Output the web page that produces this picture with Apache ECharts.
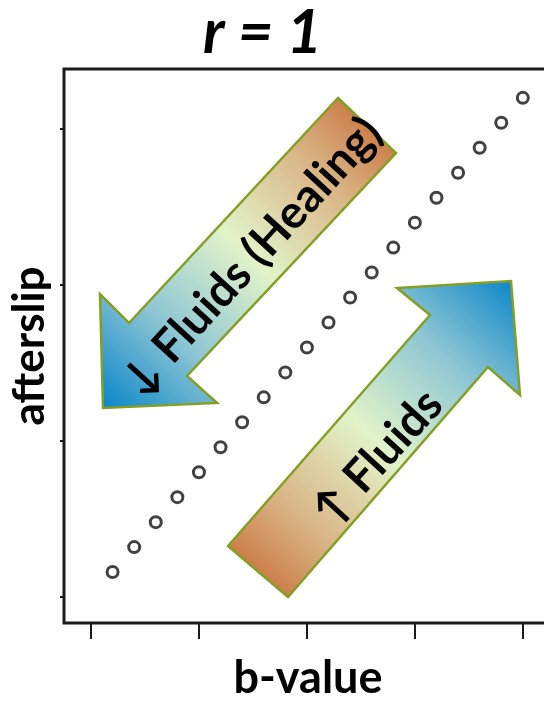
<!DOCTYPE html>
<html>
<head>
<meta charset="utf-8">
<script src="https://cdn.jsdelivr.net/npm/echarts@6/dist/echarts.min.js"></script>
<style>
  html, body { margin: 0; padding: 0; background: #fff; }
  #chart { width: 544px; height: 705px; }
</style>
</head>
<body>
<div id="chart"></div>
<script>
// values
const bValue = [0.2, 0.4, 0.6, 0.8, 1.0, 1.2, 1.4, 1.6, 1.8, 2.0, 2.2, 2.4, 2.6, 2.8, 3.0, 3.2, 3.4, 3.6, 3.8, 4.0]
const afterslip = [0.16, 0.32, 0.48, 0.64, 0.8, 0.96, 1.12, 1.28, 1.44, 1.6, 1.76, 1.92, 2.08, 2.24, 2.4, 2.56, 2.72, 2.88, 3.04, 3.2]
const xTicks = [0, 1, 2, 3, 4]
const yTicks = [0, 1, 2, 3]

const titleText = 'r = 1'
const xName = 'b-value'
const yName = 'afterslip'
const downLabel = '\u2193 Fluids (Healing)'
const upLabel = '\u2191 Fluids'

const FONT = 'Lato, "Open Sans", "DejaVu Sans", sans-serif'
const INK = '#1a1a1a'
const EDGE = '#83a024'

const chart = echarts.init(document.getElementById('chart'), null, { renderer: 'canvas' })

function arrowFill(fromX, fromY, toX, toY) {
  // orange tail -> pale -> blue head
  return new echarts.graphic.LinearGradient(fromX, fromY, toX, toY, [
    { offset: 0, color: '#c45f27' },
    { offset: 0.25, color: '#d9b485' },
    { offset: 0.5, color: '#e2f3c9' },
    { offset: 0.75, color: '#8ec6d4' },
    { offset: 1, color: '#0583c8' },
  ])
}

const tilt = 47.5 * Math.PI / 180

const option = {
  animation: false,
  title: {
    text: titleText,
    left: 203,
    top: 3,
    padding: 0,
    textStyle: {
      fontFamily: FONT,
      fontSize: 61,
      fontWeight: 'bold',
      fontStyle: 'italic',
      color: '#000',
    },
  },
  grid: {
    left: 64,
    top: 69,
    width: 488,
    height: 554,
    outerBoundsMode: 'none',
    show: true,
    borderColor: INK,
    borderWidth: 3,
    backgroundColor: '#fff',
  },
  xAxis: {
    type: 'value',
    min: -0.25,
    max: 4.27,
    name: xName,
    nameLocation: 'middle',
    nameGap: 33,
    nameTextStyle: { fontFamily: FONT, fontSize: 45, fontWeight: 'bold', color: '#000' },
    axisLine: { show: false, onZero: false },
    axisTick: { show: true, length: 16, customValues: xTicks, lineStyle: { color: INK, width: 2 } },
    axisLabel: { show: false },
    splitLine: { show: false },
  },
  yAxis: {
    type: 'value',
    min: -0.1667,
    max: 3.385,
    name: yName,
    nameLocation: 'middle',
    nameGap: 12,
    nameTextStyle: { fontFamily: FONT, fontSize: 44, fontWeight: 'bold', color: '#000' },
    axisLine: { show: false, onZero: false },
    axisTick: { show: true, length: 4, customValues: yTicks, lineStyle: { color: INK, width: 2 } },
    axisLabel: { show: false },
    splitLine: { show: false },
  },
  series: [
    {
      type: 'scatter',
      data: bValue.map((x, i) => [x, afterslip[i]]),
      symbol: 'circle',
      symbolSize: 11,
      itemStyle: {
        color: '#fff',
        borderColor: '#111',
        borderWidth: 3,
      },
    },
  ],
  graphic: [
    {
      type: 'polygon',
      z: 10,
      shape: {
        points: [[338, 98], [396, 153], [187, 376], [217, 403], [103, 408], [100, 294], [129, 323]],
      },
      style: { fill: arrowFill(1, 0, 0, 1), stroke: EDGE, lineWidth: 2.5, lineJoin: 'miter' },
    },
    {
      type: 'polygon',
      z: 10,
      shape: {
        points: [[228, 546], [288, 597], [488, 367], [520, 395], [511, 281], [397, 288], [430, 315]],
      },
      style: { fill: arrowFill(0, 1, 1, 0), stroke: EDGE, lineWidth: 2.5, lineJoin: 'miter' },
    },
    {
      type: 'text',
      z: 11,
      x: 252,
      y: 257,
      rotation: tilt,
      style: {
        text: downLabel,
        font: 'bold 46px ' + FONT,
        fill: '#000',
        align: 'center',
        verticalAlign: 'middle',
      },
    },
    {
      type: 'text',
      z: 11,
      x: 378,
      y: 458,
      rotation: tilt,
      style: {
        text: upLabel,
        font: 'bold 46px ' + FONT,
        fill: '#000',
        align: 'center',
        verticalAlign: 'middle',
      },
    },
  ],
}

chart.setOption(option)
</script>
</body>
</html>
